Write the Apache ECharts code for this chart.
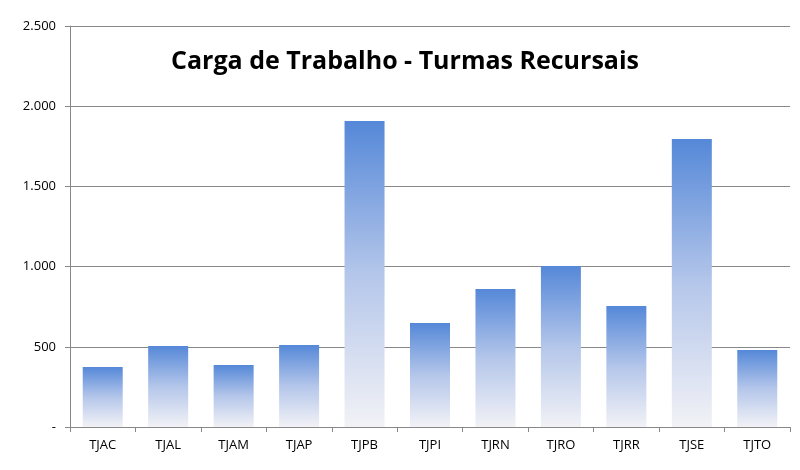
<!DOCTYPE html>
<html><head><meta charset="utf-8">
<script src="https://cdn.jsdelivr.net/npm/echarts@6/dist/echarts.min.js"></script>
<style>html,body{margin:0;padding:0;background:#fff}#c{width:800px;height:470px}</style>
</head><body><div id="c"></div>
<script>
var categories = ["TJAC", "TJAL", "TJAM", "TJAP", "TJPB", "TJPI", "TJRN", "TJRO", "TJRR", "TJSE", "TJTO"];
var values = [374, 505, 387, 511, 1908, 648, 860, 1004, 754, 1796, 480];

var chart = echarts.init(document.getElementById("c"));
chart.setOption({
  animation: false,
  title: {
    text: "Carga de Trabalho - Turmas Recursais",
    left: 400, top: 44, textAlign: "center",
    textStyle: { fontFamily: "Open Sans", fontSize: 25, fontWeight: "bold", color: "#000" }
  },
  grid: { left: 70, right: 10, top: 26, bottom: 43 },
  xAxis: {
    type: "category", data: categories,
    axisLine: { lineStyle: { color: "#888" } },
    axisTick: { show: true, alignWithLabel: false, length: 5, lineStyle: { color: "#888" } },
    axisLabel: { color: "#000", fontFamily: "Open Sans", fontSize: 13, margin: 12 }
  },
  yAxis: {
    type: "value", min: 0, max: 2500, interval: 500,
    axisLine: { show: true, lineStyle: { color: "#888" } },
    axisTick: { show: true, length: 5, lineStyle: { color: "#888" } },
    splitLine: { lineStyle: { color: "#888" } },
    axisLabel: {
      color: "#000", fontFamily: "Open Sans", fontSize: 13, margin: 14,
      formatter: function (v) { return v === 0 ? "-" : v.toLocaleString("de-DE"); }
    }
  },
  series: [{
    type: "bar", data: values, barWidth: 40,
    itemStyle: {
      color: new echarts.graphic.LinearGradient(0, 0, 0, 1, [
        { offset: 0, color: "#5588d8" },
        { offset: 0.5, color: "#b4c6ea" },
        { offset: 1, color: "#f2f2f6" }
      ])
    }
  }]
});
</script></body></html>
